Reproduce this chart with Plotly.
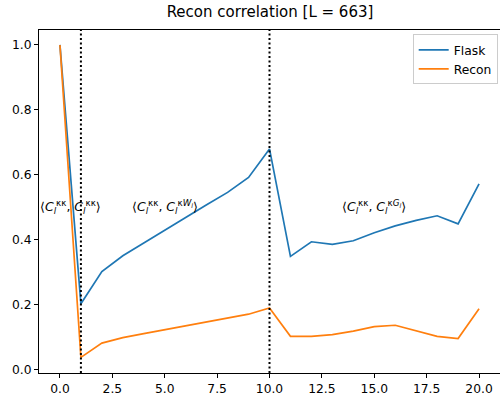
import plotly.graph_objects as go

x_vals = list(range(21))
flask = [1.0, 0.203, 0.302, 0.351, 0.390, 0.430, 0.470, 0.508, 0.546, 0.592, 0.680,
         0.349, 0.394, 0.386, 0.397, 0.422, 0.443, 0.460, 0.474, 0.449, 0.572]
recon = [1.0, 0.038, 0.082, 0.099, 0.111, 0.123, 0.135, 0.147, 0.159, 0.171, 0.190,
         0.103, 0.103, 0.108, 0.119, 0.133, 0.137, 0.120, 0.103, 0.096, 0.188]
vlines = [1, 10]
ann_x = [0.5, 5, 15]
ann_y = [0.5, 0.5, 0.5]
ann_text = [
    "⟨<i>C</i><sub><i>l</i></sub><sup>κκ</sup>, <i>C</i><sub><i>l</i></sub><sup>κκ</sup>⟩",
    "⟨<i>C</i><sub><i>l</i></sub><sup>κκ</sup>, <i>C</i><sub><i>l</i></sub><sup>κ<i>W<sub>l</sub></i></sup>⟩",
    "⟨<i>C</i><sub><i>l</i></sub><sup>κκ</sup>, <i>C</i><sub><i>l</i></sub><sup>κ<i>G<sub>l</sub></i></sup>⟩",
]
xticks = [0, 2.5, 5, 7.5, 10, 12.5, 15, 17.5, 20]
yticks = [0.0, 0.2, 0.4, 0.6, 0.8, 1.0]

FONT = "DejaVu Sans"
fig = go.Figure()
fig.add_trace(go.Scatter(x=x_vals, y=flask, mode="lines", name="Flask",
                         line=dict(color="#1f77b4", width=1.7)))
fig.add_trace(go.Scatter(x=x_vals, y=recon, mode="lines", name="Recon",
                         line=dict(color="#ff7f0e", width=1.7)))
for v in vlines:
    fig.add_shape(type="line", x0=v, x1=v, y0=0, y1=1, xref="x", yref="paper",
                  line=dict(color="black", width=2, dash="2px,2.5px"))
for ax_, ay_, t in zip(ann_x, ann_y, ann_text):
    fig.add_annotation(x=ax_, y=ay_, text=t, showarrow=False,
                       font=dict(family=FONT, size=12.5, color="black"),
                       xanchor="center", yanchor="middle")

fig.update_layout(
    width=500, height=396,
    margin=dict(l=39, r=0, t=30, b=23),
    paper_bgcolor="white", plot_bgcolor="white",
    font=dict(family=FONT, size=12.3, color="black"),
    title=dict(text="Recon correlation [L = 663]", x=0.54, xanchor="center",
               y=1 - 12 / 396, yanchor="middle", font=dict(family=FONT, size=15)),
    showlegend=True,
    legend=dict(x=0.995, y=0.987, xanchor="right", yanchor="top",
                bgcolor="rgba(255,255,255,0.8)", bordercolor="#cccccc", borderwidth=1,
                font=dict(family=FONT, size=12.3), tracegroupgap=0, itemwidth=30),
)
fig.update_xaxes(range=[-1, 21], tickvals=xticks, ticktext=[f"{t:.1f}" for t in xticks],
                 showgrid=False, zeroline=False, showline=True, linecolor="black", linewidth=0.9,
                 mirror=True, ticks="outside", ticklen=4, tickwidth=0.9, tickcolor="black")
fig.update_yaxes(range=[-0.01, 1.046], tickvals=yticks, ticktext=[f"{t:.1f}" for t in yticks],
                 showgrid=False, zeroline=False, showline=True, linecolor="black", linewidth=0.9,
                 mirror=True, ticks="outside", ticklen=4, tickwidth=0.9, tickcolor="black")

fig.write_html("out.html")
